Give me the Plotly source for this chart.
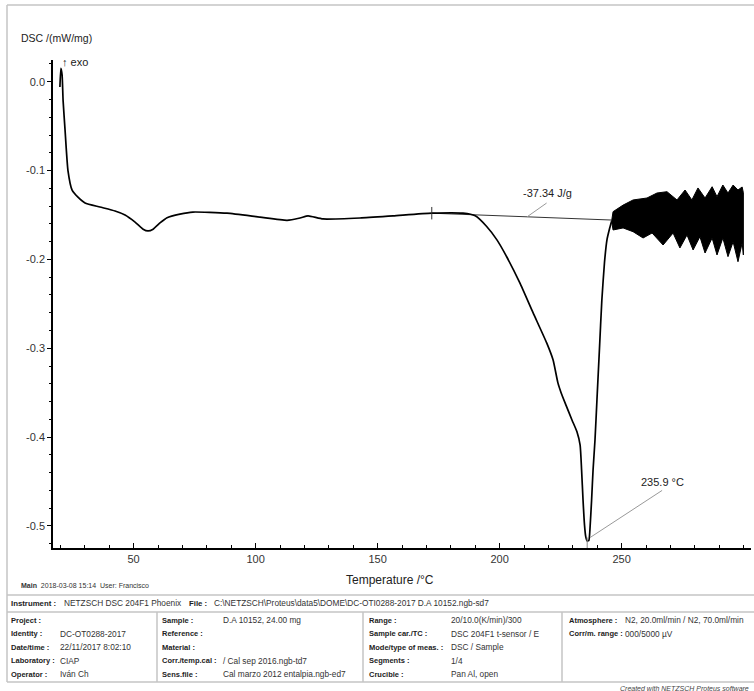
import plotly.graph_objects as go

# ---- DSC signal, heating 20 -> 300 °C (temperature in °C, DSC in mW/mg)
temp_c = [19.8, 20.2, 20.7, 21.1, 21.9, 23.1, 24.8, 27.2, 30.1, 36.2, 42.4, 46.5,
          50.6, 53.9, 55.9, 58.0, 60.8, 63.7, 69.0, 74.3, 88.3, 101.8, 112.9,
          118.2, 121.5, 127.6, 142.8, 156.3, 172.2, 185.0, 190.0, 194.7, 198.9,
          202.9, 208.3, 213.7, 219.3, 221.9, 223.9, 225.2, 227.2, 229.7, 231.7,
          233.0, 233.6, 234.2, 234.8, 235.3, 235.9, 236.6, 237.0, 237.7, 238.3,
          239.1, 239.9, 240.9, 241.9, 243.0, 244.0, 245.1, 245.9]
dsc = [-0.006, 0.015, 0.0075, -0.021, -0.054, -0.100, -0.122, -0.130, -0.1365,
       -0.141, -0.1455, -0.150, -0.158, -0.166, -0.168, -0.166, -0.159, -0.153,
       -0.149, -0.1467, -0.148, -0.1525, -0.156, -0.1534, -0.151, -0.1545,
       -0.1534, -0.151, -0.148, -0.148, -0.151, -0.163, -0.178, -0.197, -0.2265,
       -0.260, -0.294, -0.313, -0.339, -0.350, -0.364, -0.381, -0.394, -0.409,
       -0.437, -0.471, -0.499, -0.512, -0.517, -0.516, -0.505, -0.471, -0.437,
       -0.403, -0.358, -0.302, -0.246, -0.203, -0.178, -0.165, -0.157]

# ---- envelope of the oscillating signal above the melt
upper_temp = [245.9, 246.5, 250.6, 254.7, 260.4, 264.5, 268.6, 272.7, 276.0, 278.8,
              281.3, 284.2, 287.1, 289.1, 291.5, 293.6, 295.7, 297.7, 299.4, 299.9]
upper_dsc = [-0.157, -0.1463, -0.1389, -0.1331, -0.1309, -0.1253, -0.1238, -0.1331,
             -0.1219, -0.1331, -0.1196, -0.1309, -0.1182, -0.1294, -0.1163, -0.1253,
             -0.1163, -0.1219, -0.1185, -0.125]
lower_temp = [245.9, 246.5, 250.6, 254.7, 258.8, 262.5, 267.0, 271.1, 273.9, 276.8,
              279.3, 282.1, 284.2, 287.1, 289.1, 291.5, 293.6, 295.7, 297.7, 299.4, 299.9]
lower_dsc = [-0.157, -0.1669, -0.1646, -0.1688, -0.1759, -0.1703, -0.1838, -0.1703,
             -0.1871, -0.1725, -0.1894, -0.1744, -0.1928, -0.1759, -0.1950, -0.1759,
             -0.1969, -0.1801, -0.2026, -0.1815, -0.195]

# ---- peak evaluation
base_temp = [172.2, 245.9]
base_dsc = [-0.148, -0.1557]
enthalpy_text = "-37.34 J/g"
peak_temp = 235.9
peak_dsc = -0.517
peak_text = "235.9 °C"

# ---- axis ticks
x_ticks = [50, 100, 150, 200, 250]
y_ticks = [0.0, -0.1, -0.2, -0.3, -0.4, -0.5]
y_ticktext = ["0.0", "-0.1", "-0.2", "-0.3", "-0.4", "-0.5"]

# ---- measurement info table
info_rows = [
    [("Project :", ""), ("Sample :", "D.A 10152, 24.00 mg"),
     ("Range :", "20/10.0(K/min)/300"), ("Atmosphere :", "N2, 20.0ml/min / N2, 70.0ml/min")],
    [("Identity :", "DC-OT0288-2017"), ("Reference :", ""),
     ("Sample car./TC :", "DSC 204F1 t-sensor / E"), ("Corr/m. range :", "000/5000 µV")],
    [("Date/time :", "22/11/2017 8:02:10"), ("Material :", ""),
     ("Mode/type of meas. :", "DSC / Sample"), ("", "")],
    [("Laboratory :", "CIAP"), ("Corr./temp.cal :", "/ Cal sep 2016.ngb-td7"),
     ("Segments :", "1/4"), ("", "")],
    [("Operator :", "Iván Ch"), ("Sens.file :", "Cal marzo 2012 entalpia.ngb-ed7"),
     ("Crucible :", "Pan Al, open"), ("", "")],
]

W, H = 754, 691
L, R, T, B = 53, 751, 60, 548
X_RANGE = [16.97, 303.03]
Y_RANGE = [-0.52482, 0.02442]

FONT = "Liberation Sans, Arial, sans-serif"
GRID = "#c4c4c4"


def px(x):
    return (x - L) / (R - L)


def py(y):
    return (B - y) / (B - T)


fig = go.Figure()

fig.add_trace(go.Scatter(
    x=upper_temp + lower_temp[::-1], y=upper_dsc + lower_dsc[::-1],
    mode="lines", fill="toself", fillcolor="black",
    line=dict(color="black", width=1), hoverinfo="skip"))

fig.add_trace(go.Scatter(
    x=base_temp, y=base_dsc, mode="lines",
    line=dict(color="#333333", width=1)))

fig.add_trace(go.Scatter(
    x=temp_c, y=dsc, mode="lines",
    line=dict(color="black", width=1.7, shape="spline", smoothing=0.5)))

shapes = []
annotations = []

# integration start mark
shapes.append(dict(type="line", xref="x", yref="y", x0=base_temp[0], x1=base_temp[0],
                   y0=base_dsc[0] + 0.007, y1=base_dsc[0] - 0.007,
                   line=dict(color="#333333", width=1)))
# peak mark
shapes.append(dict(type="line", xref="x", yref="y", x0=peak_temp, x1=peak_temp,
                   y0=peak_dsc + 0.004, y1=Y_RANGE[0],
                   line=dict(color="#888888", width=1)))

# leader lines
lead_t = base_temp[0] + (base_temp[1] - base_temp[0]) * 0.53
lead_y = base_dsc[0] + (base_dsc[1] - base_dsc[0]) * 0.53
shapes.append(dict(type="line", xref="x", yref="y", x0=lead_t, y0=lead_y,
                   x1=lead_t + 8.0, y1=lead_y + 0.0155,
                   line=dict(color="#999999", width=1)))
annotations.append(dict(xref="x", yref="y", x=lead_t + 8.4, y=lead_y + 0.027,
                        text=enthalpy_text, showarrow=False, xanchor="center",
                        yanchor="middle", font=dict(family=FONT, size=11, color="#222")))

shapes.append(dict(type="line", xref="x", yref="y", x0=peak_temp + 1.2, y0=peak_dsc + 0.004,
                   x1=peak_temp + 30.7, y1=peak_dsc + 0.057,
                   line=dict(color="#999999", width=1)))
annotations.append(dict(xref="x", yref="y", x=peak_temp + 30.7, y=peak_dsc + 0.066,
                        text=peak_text, showarrow=False, xanchor="center",
                        yanchor="middle", font=dict(family=FONT, size=11, color="#222")))


# outer frame and table rules
def hline(y, x0=7, x1=W):
    shapes.append(dict(type="line", xref="paper", yref="paper", x0=px(x0), x1=px(x1),
                       y0=py(y), y1=py(y), line=dict(color=GRID, width=1.5)))


def vline(x, y0, y1):
    shapes.append(dict(type="line", xref="paper", yref="paper", x0=px(x), x1=px(x),
                       y0=py(y0), y1=py(y1), line=dict(color=GRID, width=1.5)))


hline(5)
hline(595)
hline(612)
hline(682)
vline(7, 5, 682)
for xs in (157, 363, 562):
    vline(xs, 612, 682)


def text(x, y, s, size=8.3, color="#222", anchor="left", bold=False, italic=False):
    if bold:
        s = "<b>" + s + "</b>"
    if italic:
        s = "<i>" + s + "</i>"
    annotations.append(dict(xref="paper", yref="paper", x=px(x), y=py(y), text=s,
                            showarrow=False, xanchor=anchor, yanchor="middle",
                            font=dict(family=FONT, size=size, color=color)))


text(19, 38, "DSC /(mW/mg)", size=10.5, color="#222")
text(60, 62, "↑ exo", size=11, color="#222")
text(390, 580, "Temperature /°C", size=12, color="#222", anchor="center")
text(19, 585, "<b>Main</b>  2018-03-08 15:14  User: Francisco", size=7, color="#333")

text(9, 603, "Instrument :", size=7.8, bold=True)
text(62, 603, "NETZSCH DSC 204F1 Phoenix", color="#333")
text(187, 603, "File :", size=7.8, bold=True)
text(212, 603, "C:\\NETZSCH\\Proteus\\data5\\DOME\\DC-OTI0288-2017 D.A 10152.ngb-sd7", color="#333")

col_label_x = [9, 160, 367, 567]
col_value_x = [58, 221, 449, 623]
for i, row in enumerate(info_rows):
    yy = 620 + i * 13.5
    for j, (lab, val) in enumerate(row):
        if lab:
            text(col_label_x[j], yy, lab, size=7.5, bold=True)
        if val:
            text(col_value_x[j], yy, val, color="#333")

text(618, 688, "Created with NETZSCH Proteus software", size=7, color="#444", italic=True)

fig.update_layout(
    width=W, height=H,
    margin=dict(l=L, r=W - R, t=T, b=H - B),
    paper_bgcolor="white", plot_bgcolor="white",
    showlegend=False,
    shapes=shapes, annotations=annotations,
    xaxis=dict(range=X_RANGE, showline=True, linecolor="black", linewidth=1.5,
               ticks="inside", ticklen=5, tickwidth=1.2, tickcolor="black",
               tickvals=x_ticks, showgrid=False, zeroline=False,
               tickfont=dict(family=FONT, size=11, color="#333"),
               minor=dict(tickvals=list(range(20, 301, 10)), ticks="inside",
                          ticklen=3, tickwidth=1, tickcolor="black")),
    yaxis=dict(range=Y_RANGE, showline=True, linecolor="black", linewidth=1.5,
               ticks="outside", ticklen=4, tickwidth=1.2, tickcolor="black",
               tickvals=y_ticks, ticktext=y_ticktext, showgrid=False, zeroline=False,
               tickfont=dict(family=FONT, size=11, color="#333"),
               minor=dict(dtick=0.02, tick0=0, ticks="outside", ticklen=2.5,
                          tickwidth=1, tickcolor="black")),
)

fig.write_html("out.html")
